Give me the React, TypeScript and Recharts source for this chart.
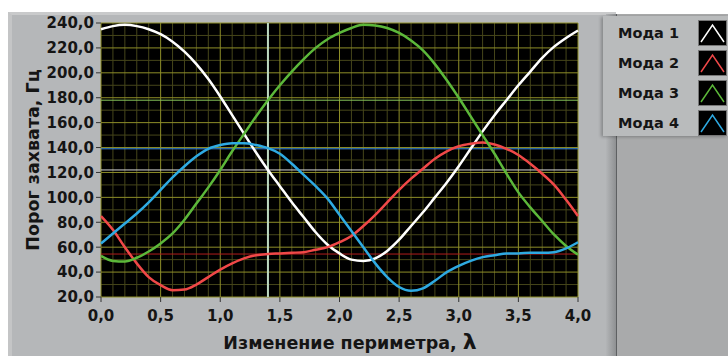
import { LineChart, Line, XAxis, YAxis, CartesianGrid, ReferenceLine } from 'recharts';

// λ values, step 0.1
const lambda = [
  0, 0.1, 0.2, 0.3, 0.4, 0.5, 0.6, 0.7, 0.8, 0.9, 1.0, 1.1, 1.2, 1.3, 1.4, 1.5, 1.6, 1.7, 1.8, 1.9, 2.0,
  2.1, 2.2, 2.3, 2.4, 2.5, 2.6, 2.7, 2.8, 2.9, 3.0, 3.1, 3.2, 3.3, 3.4, 3.5, 3.6, 3.7, 3.8, 3.9, 4.0,
];

const moda1 = [
  235, 237.5, 238.5, 237.5, 235, 231, 225, 217, 207, 195, 181, 166, 151, 136, 122, 109, 96, 84, 72, 62, 55,
  50, 49, 51, 57, 66, 77, 88, 100, 112, 125, 139, 153, 166, 178, 190, 201, 212, 221, 228, 234,
];
const moda2 = [
  85, 74, 60, 47, 36, 29.5, 25.5, 26, 30, 36, 42, 47, 51, 53.5, 54.5, 55, 55.5, 56, 58, 60, 64,
  69, 77, 86, 96, 106, 115, 123, 131, 137, 141, 143, 144, 142.5, 139, 134, 127, 119, 110, 98, 85,
];
const moda3 = [
  53, 49, 48.5, 51.5, 56.5, 63, 71, 82, 95, 108, 122, 137, 151, 165, 178, 190, 201, 211, 220, 227, 232,
  236, 238.5, 238, 236, 232, 226, 218, 207, 194, 180, 165, 150, 135, 119, 104, 92, 81, 70, 61, 54,
];
const moda4 = [
  63, 71, 79, 87, 96, 106, 116, 125, 133, 139, 142, 143.5, 143.5, 142, 139.5, 135, 127, 118, 109, 99, 86,
  73, 60, 47, 36, 28, 25, 27, 33, 40, 45, 49, 52, 53.5, 55, 55, 55.5, 55.5, 56, 59, 64,
];

const seriesNames = ['Мода 1', 'Мода 2', 'Мода 3', 'Мода 4'];
const seriesColors = ['#ffffff', '#f04848', '#5cb83a', '#2eaae2'];

const xTicks = [0, 0.5, 1, 1.5, 2, 2.5, 3, 3.5, 4];
const yTicks = [20, 40, 60, 80, 100, 120, 140, 160, 180, 200, 220, 240];
const xMinor = [
  0.1, 0.2, 0.3, 0.4, 0.6, 0.7, 0.8, 0.9, 1.1, 1.2, 1.3, 1.4, 1.6, 1.7, 1.8, 1.9, 2.1, 2.2, 2.3, 2.4,
  2.6, 2.7, 2.8, 2.9, 3.1, 3.2, 3.3, 3.4, 3.6, 3.7, 3.8, 3.9,
];
const yMinor = [30, 50, 70, 90, 110, 130, 150, 170, 190, 210, 230];

// cursor position and the levels where the curves cross it
const cursorX = 1.4;
const cursorLevels = [
  { y: 178, color: '#86c45a' },
  { y: 139, color: '#3a8ee6' },
  { y: 122, color: '#d8d8d8' },
  { y: 54.5, color: '#b01c1c' },
];

const data = lambda.map((x, i) => ({
  x,
  m1: moda1[i],
  m2: moda2[i],
  m3: moda3[i],
  m4: moda4[i],
}));

const comma = (v: number) => v.toFixed(1).replace('.', ',');
const font = '"DejaVu Sans", sans-serif';

export default function App() {
  return (
    <div style={{ position: 'absolute', left: 0, top: 0, width: 728, height: 356, background: '#fff', overflow: 'hidden' }}>
      <div
        style={{
          position: 'absolute',
          left: 8,
          top: 12,
          width: 608,
          height: 344,
          background: '#b5b7b9',
          borderTop: '3px solid #c9cacb',
          borderLeft: '4px solid #c4c5c6',
          boxSizing: 'border-box',
        }}
      />
      <div
        style={{
          position: 'absolute',
          left: 606,
          top: 14,
          width: 10,
          height: 342,
          background: 'linear-gradient(to right, #b3b5b7, #8e9092)',
        }}
      />
      <div style={{ position: 'absolute', left: 616, top: 14, width: 112, height: 342, background: '#a9aaab', borderLeft: '1px solid #5e6062' }} />
      <div
        style={{
          position: 'absolute',
          left: 33,
          top: 160,
          transform: 'translate(-50%, -50%) rotate(-90deg)',
          whiteSpace: 'nowrap',
          fontFamily: font,
          fontWeight: 'bold',
          fontSize: 17.5,
          color: '#151515',
        }}
      >
        Порог захвата, Гц
      </div>
      <div
        style={{
          position: 'absolute',
          left: 350,
          top: 341,
          transform: 'translate(-50%, -50%)',
          whiteSpace: 'nowrap',
          fontFamily: font,
          fontWeight: 'bold',
          fontSize: 17.5,
          color: '#151515',
        }}
      >
        Изменение периметра, <span style={{ fontSize: 22 }}>λ</span>
      </div>
      <div style={{ position: 'absolute', left: 0, top: 0 }}>
        <LineChart width={728} height={356} data={data} margin={{ top: 23, right: 150, bottom: 29, left: 41 }}>
          <CartesianGrid
            fill="#000"
            stroke="#46461a"
            strokeWidth={1}
            verticalValues={xMinor}
            horizontalValues={yMinor}
          />
          <CartesianGrid fill="none" stroke="#8e8e28" strokeWidth={1} verticalValues={xTicks} horizontalValues={yTicks} />
          <XAxis
            dataKey="x"
            type="number"
            domain={[0, 4]}
            ticks={xTicks}
            interval={0}
            tickFormatter={comma}
            axisLine={false}
            tickSize={5}
            tickMargin={8}
            height={30}
            tickLine={{ stroke: '#333' }}
            tick={{ fill: '#151515', fontFamily: font, fontWeight: 'bold', fontSize: 15 }}
          />
          <YAxis
            type="number"
            domain={[20, 240]}
            ticks={yTicks}
            interval={0}
            tickFormatter={comma}
            axisLine={false}
            width={60}
            tickSize={5}
            tickMargin={2}
            tickLine={{ stroke: '#333' }}
            tick={{ fill: '#151515', fontFamily: font, fontWeight: 'bold', fontSize: 15 }}
            allowDataOverflow
          />
          {cursorLevels.map((c) => (
            <ReferenceLine key={c.y} y={c.y} stroke={c.color} strokeWidth={1} />
          ))}
          <ReferenceLine x={cursorX} stroke="#bcd8c0" strokeWidth={2} />
          <Line type="monotone" dataKey="m1" name={seriesNames[0]} stroke={seriesColors[0]} strokeWidth={2.5} dot={false} isAnimationActive={false} />
          <Line type="monotone" dataKey="m2" name={seriesNames[1]} stroke={seriesColors[1]} strokeWidth={2.5} dot={false} isAnimationActive={false} />
          <Line type="monotone" dataKey="m3" name={seriesNames[2]} stroke={seriesColors[2]} strokeWidth={2.5} dot={false} isAnimationActive={false} />
          <Line type="monotone" dataKey="m4" name={seriesNames[3]} stroke={seriesColors[3]} strokeWidth={2.5} dot={false} isAnimationActive={false} />
        </LineChart>
      </div>
      <div
        style={{
          position: 'absolute',
          left: 603,
          top: 16,
          width: 125,
          height: 120,
          background: '#b9bbbc',
          boxShadow: '-2px 1px 3px rgba(0,0,0,0.25)',
          boxSizing: 'border-box',
          paddingTop: 2,
        }}
      >
        {seriesNames.map((name, i) => (
          <div key={name} style={{ display: 'flex', alignItems: 'center', height: 30 }}>
            <span
              style={{
                width: 80,
                paddingLeft: 15,
                fontFamily: font,
                fontWeight: 'bold',
                fontSize: 14.5,
                color: '#151515',
              }}
            >
              {name}
            </span>
            <svg width={29} height={26} style={{ display: 'block' }}>
              <rect x={0.5} y={0.5} width={28} height={25} fill="#000" stroke="#777" />
              <polyline points="3,22 14.5,5 26,22" fill="none" stroke={seriesColors[i]} strokeWidth={1.5} />
            </svg>
          </div>
        ))}
      </div>
    </div>
  );
}
